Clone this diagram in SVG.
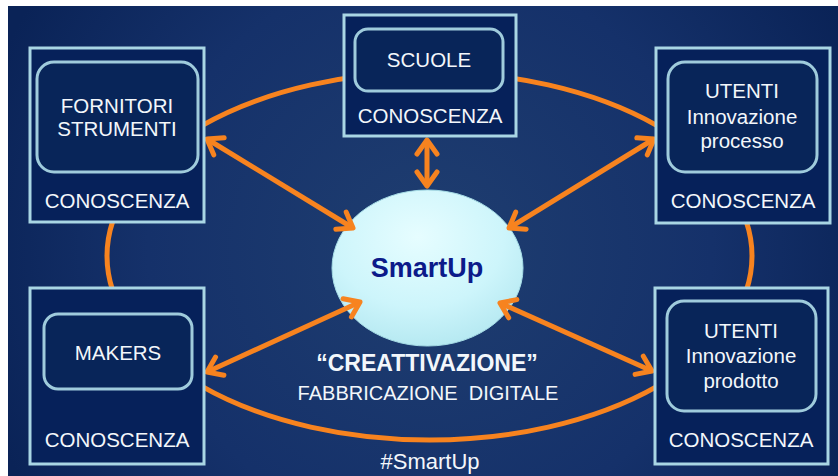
<svg xmlns="http://www.w3.org/2000/svg" width="838" height="476" viewBox="0 0 838 476">
  <defs>
    <radialGradient id="bg" cx="430" cy="250" r="470" gradientUnits="userSpaceOnUse">
      <stop offset="0" stop-color="#1f3e70"/>
      <stop offset="0.6" stop-color="#15316a"/>
      <stop offset="1" stop-color="#0a2357"/>
    </radialGradient>
    <radialGradient id="hub" cx="0.45" cy="0.3" r="0.75">
      <stop offset="0" stop-color="#e6fdff"/>
      <stop offset="0.6" stop-color="#cdf5fb"/>
      <stop offset="1" stop-color="#b2e7f0"/>
    </radialGradient>
    <marker id="head" viewBox="-20 -14 26 28" markerWidth="26" markerHeight="28" refX="0" refY="0" markerUnits="userSpaceOnUse" orient="auto-start-reverse">
      <path d="M -14 -10 L 0 0 L -14 10" fill="none" stroke="#f7831f" stroke-width="5" stroke-linecap="round" stroke-linejoin="round"/>
    </marker>
    <style>
      .frame { fill: #06215a; stroke: #a9d6e4; stroke-width: 3; }
      .card { fill: #082559; stroke: #9fcbdc; stroke-width: 3; }
      .lbl { font-family: "Liberation Sans", Arial, sans-serif; font-size: 20.5px; fill: #f3f7fb; text-anchor: middle; }
      .ring { fill: none; stroke: #f7831f; stroke-width: 5; }
      .link { fill: none; stroke: #f7831f; stroke-width: 5; marker-start: url(#head); marker-end: url(#head); }
    </style>
  </defs>

  <!-- page -->
  <rect x="0" y="0" width="838" height="476" fill="#ffffff"/>
  <rect x="8" y="6" width="830" height="470" fill="url(#bg)"/>

  <!-- central hub, drawn first so the link arrowheads sit on its rim -->
  <g id="smartup">
    <ellipse cx="427.5" cy="268" rx="95.5" ry="78" fill="url(#hub)" stroke="#a6dce6" stroke-width="1"/>
    <text x="427" y="277" font-family="'Liberation Sans', Arial, sans-serif" font-size="27" font-weight="bold" fill="#0c1a8a" text-anchor="middle">SmartUp</text>
  </g>

  <!-- connectors: outer ring and hub links -->
  <g id="connectors">
    <ellipse class="ring" cx="429.5" cy="256" rx="322.5" ry="184"/>
    <line class="link" x1="207" y1="139" x2="353" y2="228"/>
    <line class="link" x1="427" y1="140" x2="427" y2="186"/>
    <line class="link" x1="654" y1="139" x2="509" y2="228"/>
    <line class="link" x1="207" y1="372" x2="360" y2="302"/>
    <line class="link" x1="652" y1="371" x2="500" y2="303"/>
  </g>

  <g id="fornitori">
    <rect class="frame" x="30" y="48" width="174" height="174"/>
    <rect class="card" x="37" y="62" width="161" height="110" rx="17"/>
    <text class="lbl" x="117" y="113">FORNITORI</text>
    <text class="lbl" x="117" y="136">STRUMENTI</text>
    <text class="lbl" x="117" y="208">CONOSCENZA</text>
  </g>

  <g id="scuole">
    <rect class="frame" x="344" y="15" width="172" height="121"/>
    <rect class="card" x="355" y="29" width="148" height="62" rx="13"/>
    <text class="lbl" x="429" y="67">SCUOLE</text>
    <text class="lbl" x="430" y="123">CONOSCENZA</text>
  </g>

  <g id="utenti-processo">
    <rect class="frame" x="656" y="48" width="174" height="175"/>
    <rect class="card" x="668" y="62" width="149" height="110" rx="17"/>
    <text class="lbl" x="742" y="98">UTENTI</text>
    <text class="lbl" x="742" y="124">Innovazione</text>
    <text class="lbl" x="742" y="148">processo</text>
    <text class="lbl" x="743" y="208">CONOSCENZA</text>
  </g>

  <g id="makers">
    <rect class="frame" x="30" y="288" width="174" height="176"/>
    <rect class="card" x="44" y="314" width="148" height="75" rx="14"/>
    <text class="lbl" x="118" y="360">MAKERS</text>
    <text class="lbl" x="117" y="447">CONOSCENZA</text>
  </g>

  <g id="utenti-prodotto">
    <rect class="frame" x="655" y="288" width="173" height="176"/>
    <rect class="card" x="667" y="301" width="149" height="110" rx="17"/>
    <text class="lbl" x="741" y="338">UTENTI</text>
    <text class="lbl" x="741" y="363">Innovazione</text>
    <text class="lbl" x="741" y="388">prodotto</text>
    <text class="lbl" x="741" y="447">CONOSCENZA</text>
  </g>

  <g id="caption">
    <text x="427" y="371" font-family="'Liberation Sans', Arial, sans-serif" font-size="23" font-weight="bold" fill="#f3f7fb" text-anchor="middle">“CREATTIVAZIONE”</text>
    <text x="428" y="400" font-family="'Liberation Sans', Arial, sans-serif" font-size="20" fill="#f3f7fb" text-anchor="middle" xml:space="preserve">FABBRICAZIONE  DIGITALE</text>
    <text x="430" y="469" font-family="'Liberation Sans', Arial, sans-serif" font-size="22" fill="#f3f7fb" text-anchor="middle">#SmartUp</text>
  </g>
</svg>
